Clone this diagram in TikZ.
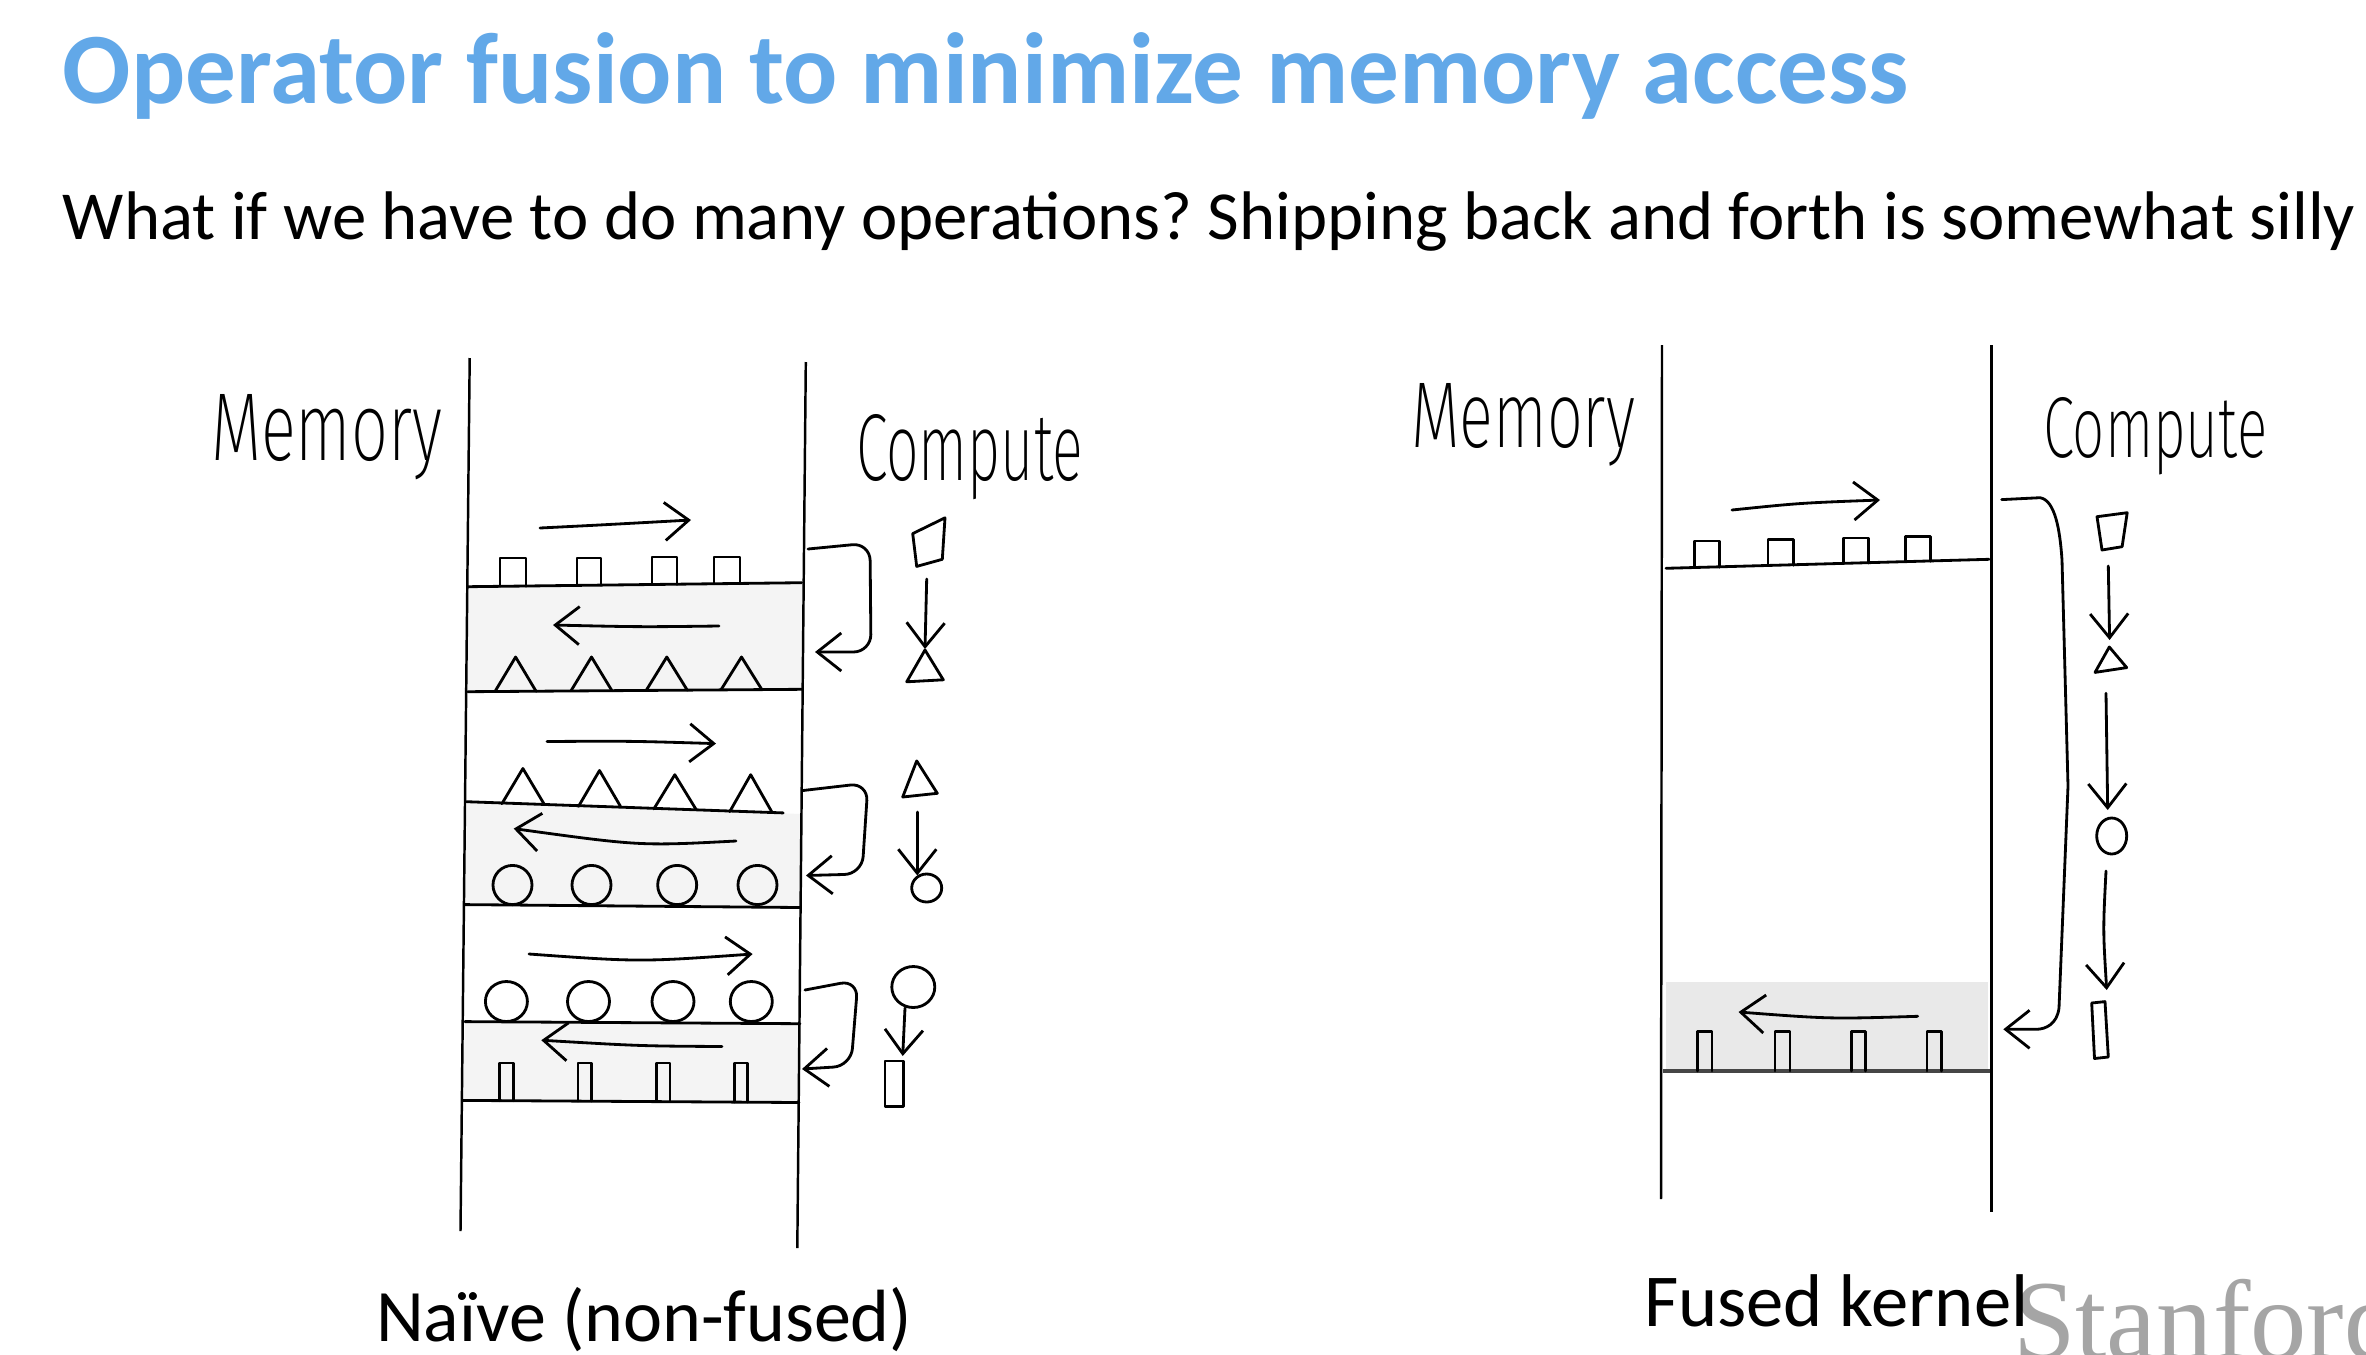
\documentclass[tikz,border=0pt]{standalone}
\usepackage{fontspec}
\usepackage{graphicx}
\setmainfont{Carlito}
\newfontfamily\stanfont{Liberation Serif}
\newfontfamily\handfont{Fira Sans ExtraLight}
\usetikzlibrary{arrows.meta}
\definecolor{titleblue}{RGB}{98,168,232}
\definecolor{shadeL}{RGB}{244,244,244}
\definecolor{shadeR}{RGB}{233,233,233}
\definecolor{stgray}{RGB}{165,165,165}
\tikzset{
  sk/.style={line width=0.8pt, line cap=round, line join=round},
  wall/.style={line width=0.7pt},
  arr/.style={sk, -{Straight Barb[length=0.24cm,width=0.38cm]}},
  txt/.style={anchor=base west, inner sep=0pt, outer sep=0pt},
}
\newcommand\opensq[4]{\draw[sk] (#1,#4) |- (#2,#3) -- (#2,#4);}
\newcommand\opentri[4]{\draw[sk] ({#1-#4},#3) -- (#1,#2) -- ({#1+#4},#3);}
\frenchspacing
\begin{document}
\begin{tikzpicture}[x=0.01cm,y=-0.01cm]
\useasboundingbox (0,0) rectangle (2366,1354);
\clip (0,0) rectangle (2366,1354);
\fill[white] (0,0) rectangle (2366,1354);

% ---------- texts ----------
\node[txt, text=titleblue] (title) at (63,103)
  {\resizebox{18.45cm}{!}{\bfseries Operator fusion to minimize memory access}};
\node[txt] (sub) at (63,239)
  {\resizebox{22.91cm}{!}{What if we have to do many operations? Shipping back and forth is somewhat silly}};
\node[txt] (naive) at (376,1341) {\resizebox{5.36cm}{!}{Naïve (non-fused)}};
\node[txt, text=stgray, font=\stanfont\fontsize{32}{32}\selectfont] (stanford) at (2013,1358) {Stanford};
\node[txt] (fused) at (1644,1326) {\resizebox{3.84cm}{!}{Fused kernel}};

\node[txt] (memL) at (211,460) {\resizebox{2.31cm}{0.66cm}{\handfont Memory}};
\node[txt] (cmpL) at (856,480) {\resizebox{2.27cm}{0.66cm}{\handfont Compute}};
\node[txt] (memR) at (1411,447) {\resizebox{2.24cm}{0.64cm}{\handfont Memory}};
\node[txt] (cmpR) at (2043,457) {\resizebox{2.24cm}{0.60cm}{\handfont Compute}};

% ---------- left (naive) ----------
\fill[shadeL] (468,586) -- (802,582) -- (802,690) -- (467,692) -- cycle;
\fill[shadeL] (467,802) -- (801,814) -- (800,907) -- (465,905) -- cycle;
\fill[shadeL] (465,1022) -- (799,1024) -- (799,1102) -- (463,1101) -- cycle;

\draw[wall] (469.7,358) -- (460.5,1231);
\draw[wall] (805.8,362) -- (797.3,1248);

\draw[sk] (467.8,586.7) -- (801.6,582.7);
\draw[sk] (467.8,691.7) -- (801.6,689.3);
\draw[sk] (466.6,801.7) -- (783.2,812.9);
\draw[sk] (464.8,904.6) -- (800,907.5);
\draw[sk] (464.8,1021.6) -- (800,1023.7);
\draw[sk] (462.9,1100.4) -- (799,1102.5);

% row 1 squares
\opensq{500}{526}{558}{586.3}
\opensq{577}{601}{558}{585.3}
\opensq{652}{677}{557}{584.5}
\opensq{714}{740}{557}{583.7}
% row 2 triangles
\opentri{515.6}{657}{691.3}{20.5}
\opentri{591.5}{657}{690.8}{20.5}
\opentri{666.8}{657}{690.2}{20.5}
\opentri{741.5}{657}{689.8}{20.5}
% row 3 triangles
\opentri{522.9}{768.5}{803.7}{21}
\opentri{599.5}{770.5}{806.4}{21}
\opentri{674.8}{774.7}{809}{21}
\opentri{750.7}{774.7}{811.7}{21}
% row 4 circles
\foreach \x in {512.5,591.5,677.2,757.5}{\draw[sk] (\x,885) ellipse [x radius=19.5, y radius=19.6];}
% row 5 circles
\foreach \x in {506.4,588.5,673,751.3}{\draw[sk] (\x,1001.5) ellipse [x radius=21, y radius=20];}
% row 6 tall rects
\opensq{499.7}{513.7}{1063}{1100.6}
\opensq{578}{591.5}{1063}{1101}
\opensq{656.4}{670}{1063}{1101.5}
\opensq{734.2}{747.7}{1063}{1102}

% transfer arrows
\draw[arr] (540,528) .. controls (600,525) .. (691,520);
\draw[arr] (719,626) .. controls (640,627) .. (553,625);
\draw[arr] (547,741.5) .. controls (630,741) .. (716,743.6);
\draw[arr] (736,841) .. controls (640,846) .. (513.7,828.6);
\draw[arr] (529,954) .. controls (640,962) .. (752.6,954);
\draw[arr] (722,1046.5) .. controls (640,1046) .. (541.3,1040.2);

% hooks
\draw[arr, rounded corners=5] (808,549) -- (870,543) -- (871,652) -- (815,652);
\draw[arr, rounded corners=5] (803,790.5) -- (868,783) -- (862,874) -- (806,875.5);
\draw[arr, rounded corners=5] (805,990) -- (858,980) -- (851,1066) -- (802,1069);

% compute column (left)
\draw[sk] (912.7,533.6) -- (945,517.8) -- (942.3,559.3) -- (916.7,566.4) -- cycle;
\draw[arr] (926.7,579) -- (925,649);
\draw[sk] (906.7,681.8) -- (925,650) -- (943.3,679.8) -- cycle;
\draw[sk] (916.7,760.9) -- (937.3,793.3) -- (902.7,797) -- cycle;
\draw[arr] (917.3,812) -- (917.3,875.5);
\draw[sk] (926.7,888) ellipse [x radius=15, y radius=14];
\draw[sk] (913.3,987) ellipse [x radius=21.5, y radius=20.5];
\draw[arr] (905,1008) -- (902.7,1056);
\draw[sk] (885,1061) rectangle (903.3,1106.7);

% ---------- right (fused) ----------
\fill[shadeR] (1666,982) rectangle (1988,1071);
\draw[wall] (1662,345) -- (1661,1199);
\draw[wall] (1991.5,345) -- (1991.5,1212);
\draw[sk] (1666,568.3) -- (1989,559.3);
\draw[line width=1pt, draw={rgb,255:red,70;green,70;blue,70}] (1663,1071) -- (1990,1071);

\opensq{1694.5}{1719.6}{541}{567.2}
\opensq{1768}{1793.8}{539.3}{565.1}
\opensq{1843.5}{1868.7}{538}{563}
\opensq{1905.2}{1930.3}{536.7}{561.2}

\opensq{1697.6}{1712}{1031.4}{1071}
\opensq{1775}{1790}{1031.4}{1071}
\opensq{1851.7}{1865.5}{1031.4}{1071}
\opensq{1927}{1941.6}{1031.4}{1071}

\draw[arr] (1732,510) .. controls (1800,503) .. (1880,500);
\draw[arr] (1917.7,1016.3) .. controls (1830,1019) .. (1738.5,1012);

\draw[arr] (2001.7,499.6) -- (2040,497.7) .. controls (2055,500) and (2060,530) .. (2062,560)
  -- (2068,786) -- (2059,1008) .. controls (2057,1024) and (2046,1029) .. (2036.7,1029.3)
  -- (2003.3,1029.3);

\draw[sk] (2097,516.7) -- (2127.2,512.7) -- (2122.1,546.7) -- (2102,550) -- cycle;
\draw[arr] (2108.3,566) -- (2109.6,640);
\draw[sk] (2109.3,647) -- (2126.7,667.6) -- (2095,672.4) -- cycle;
\draw[arr] (2106,693.3) -- (2107.7,810);
\draw[sk] (2111.7,836) ellipse [x radius=15, y radius=18];
\draw[arr] (2106,871) .. controls (2103,930) .. (2106.7,990);
\draw[sk] (2091.7,1003) -- (2105,1001.6) -- (2108.3,1057) -- (2094.5,1058.5) -- cycle;
\end{tikzpicture}
\end{document}
